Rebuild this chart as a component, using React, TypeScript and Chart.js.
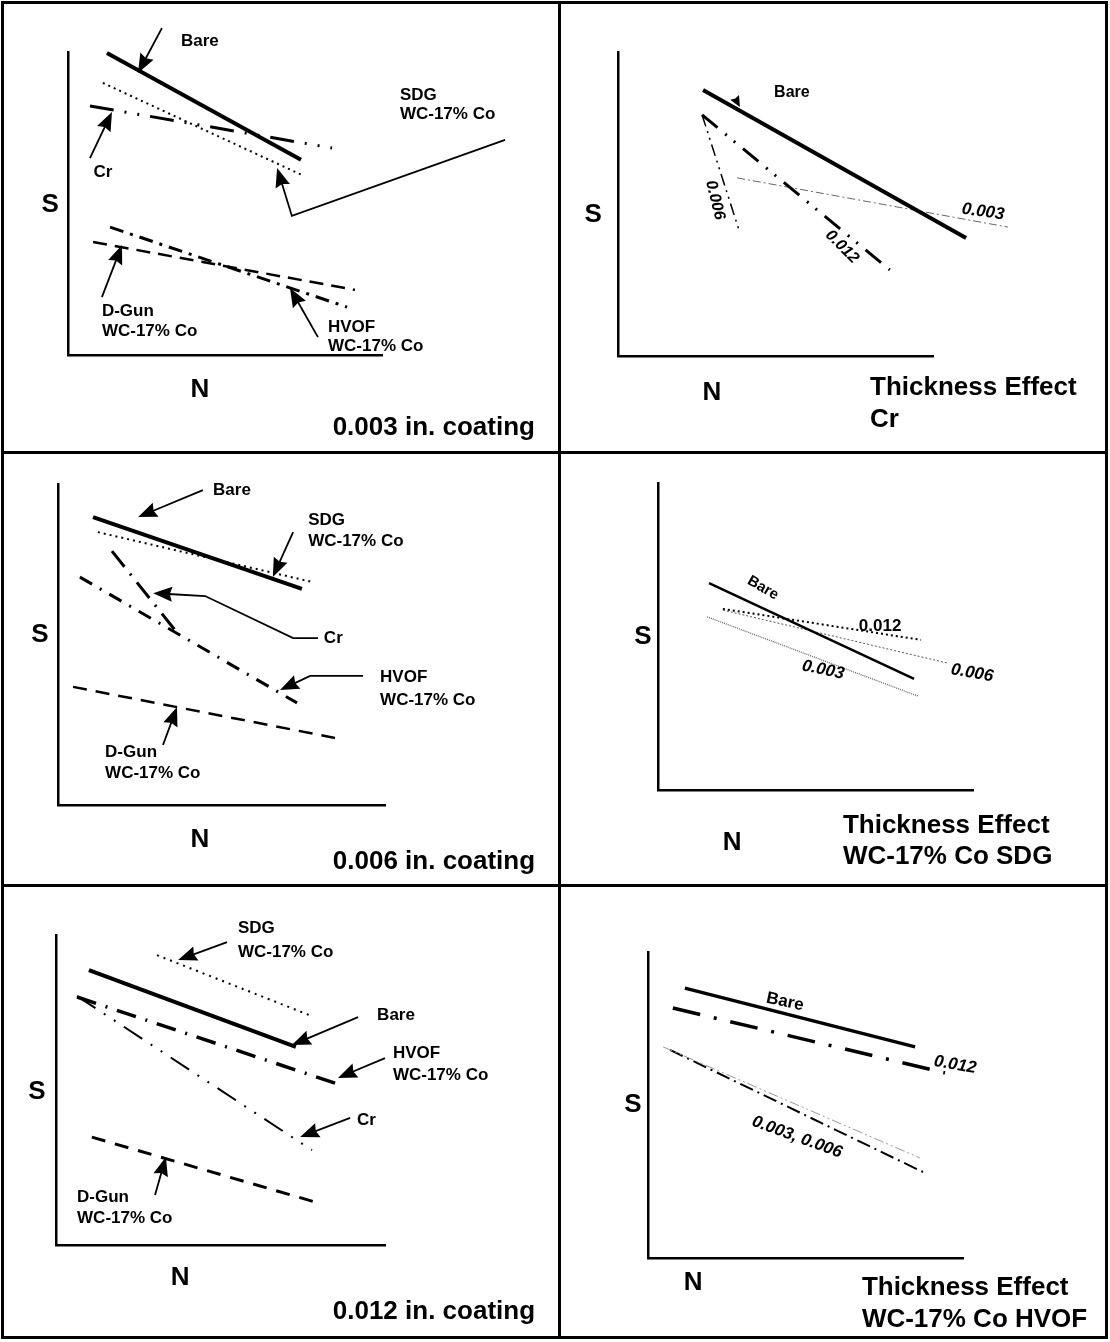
import React, { useEffect, useRef } from "react";
import { Chart, registerables } from "chart.js";

Chart.register(...registerables);

type Pt = [number, number];

// ---------- DATA (schematic units: N 0..10, S 0..10) ----------
// Panel 1: 0.003 in. coating
const p1Bare: Pt[] = [[1.24, 9.97], [7.42, 6.44]];
const p1SDG: Pt[] = [[1.11, 8.98], [7.45, 5.94]];
const p1Cr: Pt[] = [[0.70, 8.22], [8.41, 6.83]];
const p1DGun: Pt[] = [[0.80, 3.73], [9.14, 2.15]];
const p1HVOF: Pt[] = [[1.34, 4.22], [8.89, 1.58]];

// Panel 2: Thickness effect, Cr
const p2Bare: Pt[] = [[2.70, 8.75], [11.05, 3.88]];
const p2T012: Pt[] = [[2.67, 7.93], [8.63, 2.83]];
const p2T006: Pt[] = [[2.67, 7.93], [3.87, 4.05]];
const p2T003: Pt[] = [[3.78, 5.86], [12.38, 4.24]];

// Panel 3: 0.006 in. coating
const p3Bare: Pt[] = [[1.07, 8.97], [7.46, 6.73]];
const p3SDG: Pt[] = [[1.22, 8.50], [7.77, 6.95]];
const p3Cr: Pt[] = [[1.65, 7.91], [3.67, 5.33]];
const p3HVOF: Pt[] = [[0.67, 7.10], [7.31, 3.18]];
const p3DGun: Pt[] = [[0.46, 3.68], [8.47, 2.09]];

// Panel 4: Thickness effect, WC-17% Co SDG
const p4Bare: Pt[] = [[1.62, 6.74], [8.13, 3.62]];
const p4T012: Pt[] = [[2.06, 5.90], [8.35, 4.89]];
const p4T006: Pt[] = [[2.06, 5.86], [9.17, 4.14]];
const p4T003: Pt[] = [[1.56, 5.64], [8.25, 3.06]];

// Panel 5: 0.012 in. coating
const p5SDG: Pt[] = [[3.07, 9.35], [7.69, 7.42]];
const p5Bare: Pt[] = [[1.00, 8.87], [7.29, 6.39]];
const p5HVOF: Pt[] = [[0.64, 8.00], [8.57, 5.19]];
const p5Cr: Pt[] = [[0.64, 8.03], [7.78, 3.06]];
const p5DGun: Pt[] = [[1.09, 3.48], [8.09, 1.32]];

// Panel 6: Thickness effect, WC-17% Co HVOF
const p6Bare: Pt[] = [[1.17, 8.82], [8.48, 6.90]];
const p6T012: Pt[] = [[0.79, 8.17], [9.43, 6.05]];
const p6T003: Pt[] = [[0.48, 6.90], [8.63, 3.27]];
const p6T006: Pt[] = [[0.70, 6.80], [8.73, 2.81]];

const AXIS_MIN = 0;
const AXIS_MAX = 10;

// ---------- STYLES / LAYOUT ----------
const FONT = "'Liberation Sans', Arial, Helvetica, sans-serif";
const W = 1110;
const H = 1342;

type LineStyle = { w: number; dash: number[]; color?: string };
type Series = { pts: Pt[]; st: LineStyle };
type Txt = { t: string; x: number; y: number; align?: CanvasTextAlign; rot?: number; size?: number; italic?: boolean };
type Arr = { pts: Pt[]; shaft?: boolean; hl?: number; hw?: number; w?: number };
type Panel = { box: [number, number, number, number]; series: Series[]; texts: Txt[]; arrows: Arr[] };

const BIG = 26;
const SM = 17;

const panels: Panel[] = [
  {
    box: [68, 52, 382, 355],
    series: [
      { pts: p1Bare, st: { w: 4, dash: [] } },
      { pts: p1SDG, st: { w: 2, dash: [2, 4] } },
      { pts: p1Cr, st: { w: 3, dash: [24, 11, 2, 11, 2, 11] } },
      { pts: p1DGun, st: { w: 2.5, dash: [14, 8] } },
      { pts: p1HVOF, st: { w: 3, dash: [14, 7, 3, 7] } },
    ],
    texts: [
      { t: "S", x: -0.57, y: 4.95, size: BIG },
      { t: "N", x: 4.2, y: -1.16, size: BIG },
      { t: "0.003 in. coating", x: 14.87, y: -2.41, size: BIG, align: "right" },
      { t: "Bare", x: 4.2, y: 10.36 },
      { t: "SDG", x: 10.57, y: 8.58, align: "left" },
      { t: "WC-17% Co", x: 10.57, y: 7.95, align: "left" },
      { t: "Cr", x: 1.11, y: 6.04 },
      { t: "D-Gun", x: 1.08, y: 1.45, align: "left" },
      { t: "WC-17% Co", x: 1.08, y: 0.79, align: "left" },
      { t: "HVOF", x: 8.28, y: 0.92, align: "left" },
      { t: "WC-17% Co", x: 8.28, y: 0.3, align: "left" },
    ],
    arrows: [
      { pts: [[2.99, 10.79], [2.23, 9.31]] },
      { pts: [[0.70, 6.50], [1.40, 8.02]] },
      { pts: [[13.92, 7.10], [7.13, 4.59], [6.66, 6.17]] },
      { pts: [[1.08, 1.91], [1.72, 3.63]] },
      { pts: [[7.96, 0.59], [7.07, 2.21]] },
    ],
  },
  {
    box: [618, 52, 933, 356],
    series: [
      { pts: p2Bare, st: { w: 4, dash: [] } },
      { pts: p2T012, st: { w: 3, dash: [20, 10, 2, 9, 2, 10] } },
      { pts: p2T006, st: { w: 1.5, dash: [12, 5, 2, 5, 2, 5] } },
      { pts: p2T003, st: { w: 1, dash: [8, 3, 2, 3], color: "#666" } },
    ],
    texts: [
      { t: "S", x: -0.79, y: 4.64, size: BIG },
      { t: "N", x: 2.98, y: -1.22, size: BIG },
      { t: "Thickness Effect", x: 8.0, y: -1.05, size: BIG, align: "left" },
      { t: "Cr", x: 8.0, y: -2.11, size: BIG, align: "left" },
      { t: "Bare", x: 5.52, y: 8.65, size: 16 },
      { t: "0.003", x: 11.59, y: 4.74, rot: 8, italic: true, size: 17 },
      { t: "0.012", x: 7.11, y: 3.59, rot: 45, italic: true, size: 16 },
      { t: "0.006", x: 3.08, y: 5.13, rot: 76, italic: true, size: 16 },
    ],
    arrows: [{ pts: [[3.68, 8.55], [3.87, 8.19]], shaft: false, hl: 11, hw: 5 }],
  },
  {
    box: [58, 484, 385, 805],
    series: [
      { pts: p3Bare, st: { w: 4, dash: [] } },
      { pts: p3SDG, st: { w: 2, dash: [2, 4] } },
      { pts: p3Cr, st: { w: 3, dash: [20, 9, 2, 9] } },
      { pts: p3HVOF, st: { w: 3, dash: [14, 9, 2, 9] } },
      { pts: p3DGun, st: { w: 2.5, dash: [14, 9] } },
    ],
    texts: [
      { t: "S", x: -0.55, y: 5.3, size: BIG },
      { t: "N", x: 4.34, y: -1.09, size: BIG },
      { t: "0.006 in. coating", x: 14.59, y: -1.78, size: BIG, align: "right" },
      { t: "Bare", x: 5.32, y: 9.81 },
      { t: "SDG", x: 7.65, y: 8.88, align: "left" },
      { t: "WC-17% Co", x: 7.65, y: 8.22, align: "left" },
      { t: "Cr", x: 8.13, y: 5.2, align: "left" },
      { t: "HVOF", x: 9.85, y: 3.99, align: "left" },
      { t: "WC-17% Co", x: 9.85, y: 3.27, align: "left" },
      { t: "D-Gun", x: 1.44, y: 1.65, align: "left" },
      { t: "WC-17% Co", x: 1.44, y: 1.0, align: "left" },
    ],
    arrows: [
      { pts: [[4.43, 9.81], [2.45, 8.97]] },
      { pts: [[7.19, 8.50], [6.57, 7.10]] },
      { pts: [[7.95, 5.20], [7.19, 5.20], [4.50, 6.51], [2.91, 6.60]] },
      { pts: [[9.33, 4.02], [7.71, 4.02], [6.79, 3.58]] },
      { pts: [[3.21, 1.87], [3.64, 3.05]] },
    ],
  },
  {
    box: [658, 483, 973, 790],
    series: [
      { pts: p4Bare, st: { w: 2.5, dash: [] } },
      { pts: p4T012, st: { w: 2, dash: [2, 3] } },
      { pts: p4T006, st: { w: 1, dash: [2, 2], color: "#555" } },
      { pts: p4T003, st: { w: 1.3, dash: [1, 1], color: "#666" } },
    ],
    texts: [
      { t: "S", x: -0.48, y: 4.98, size: BIG },
      { t: "N", x: 2.35, y: -1.73, size: BIG },
      { t: "Thickness Effect", x: 5.87, y: -1.17, size: BIG, align: "left" },
      { t: "WC-17% Co SDG", x: 5.87, y: -2.18, size: BIG, align: "left" },
      { t: "Bare", x: 3.33, y: 6.58, rot: 30, size: 15 },
      { t: "0.012", x: 7.05, y: 5.34, size: 17 },
      { t: "0.006", x: 9.97, y: 3.81, rot: 10, italic: true, size: 17 },
      { t: "0.003", x: 5.24, y: 3.91, rot: 12, italic: true, size: 17 },
    ],
    arrows: [],
  },
  {
    box: [56, 935, 385, 1245],
    series: [
      { pts: p5SDG, st: { w: 2, dash: [2, 5] } },
      { pts: p5Bare, st: { w: 4, dash: [] } },
      { pts: p5HVOF, st: { w: 3.5, dash: [20, 10, 2, 10] } },
      { pts: p5Cr, st: { w: 2, dash: [22, 10, 2, 10, 2, 10] } },
      { pts: p5DGun, st: { w: 3, dash: [14, 10] } },
    ],
    texts: [
      { t: "S", x: -0.58, y: 4.94, size: BIG },
      { t: "N", x: 3.77, y: -1.06, size: BIG },
      { t: "0.012 in. coating", x: 14.56, y: -2.16, size: BIG, align: "right" },
      { t: "SDG", x: 5.53, y: 10.23, align: "left" },
      { t: "WC-17% Co", x: 5.53, y: 9.45, align: "left" },
      { t: "Bare", x: 9.76, y: 7.42, align: "left" },
      { t: "HVOF", x: 10.24, y: 6.19, align: "left" },
      { t: "WC-17% Co", x: 10.24, y: 5.48, align: "left" },
      { t: "Cr", x: 9.15, y: 4.03, align: "left" },
      { t: "D-Gun", x: 0.64, y: 1.55, align: "left" },
      { t: "WC-17% Co", x: 0.64, y: 0.87, align: "left" },
    ],
    arrows: [
      { pts: [[5.20, 9.77], [3.71, 9.19]] },
      { pts: [[9.18, 7.35], [7.17, 6.45]] },
      { pts: [[10.0, 6.03], [8.57, 5.39]] },
      { pts: [[8.94, 4.10], [7.42, 3.48]] },
      { pts: [[3.01, 1.61], [3.34, 2.84]] },
    ],
  },
  {
    box: [648, 952, 963, 1258],
    series: [
      { pts: p6Bare, st: { w: 3.5, dash: [] } },
      { pts: p6T012, st: { w: 3.5, dash: [28, 14, 3, 14] } },
      { pts: p6T003, st: { w: 1, dash: [10, 3, 2, 3, 2, 3], color: "#999" } },
      { pts: p6T006, st: { w: 2, dash: [14, 5, 2, 5] } },
    ],
    texts: [
      { t: "S", x: -0.48, y: 5.0, size: BIG },
      { t: "N", x: 1.43, y: -0.82, size: BIG },
      { t: "Thickness Effect", x: 6.79, y: -0.98, size: BIG, align: "left" },
      { t: "WC-17% Co HVOF", x: 6.79, y: -2.03, size: BIG, align: "left" },
      { t: "Bare", x: 4.35, y: 8.37, rot: 12, size: 17 },
      { t: "0.012", x: 9.75, y: 6.31, rot: 10, italic: true, size: 17 },
      { t: "0.003, 0.006", x: 4.73, y: 3.95, rot: 20, italic: true, size: 17 },
    ],
    arrows: [],
  },
];

function makeAnnotPlugin(panel: Panel) {
  return {
    id: "annot",
    afterDatasetsDraw(chart: any) {
      const ctx: CanvasRenderingContext2D = chart.ctx;
      const sx = chart.scales.x;
      const sy = chart.scales.y;
      const px = (p: Pt): Pt => [sx.getPixelForValue(p[0]), sy.getPixelForValue(p[1])];
      ctx.save();
      ctx.strokeStyle = "#000";
      ctx.fillStyle = "#000";
      for (const a of panel.arrows) {
        const pts = a.pts.map(px);
        const hl = a.hl ?? 19;
        const hw = a.hw ?? 7.5;
        const [x1, y1] = pts[pts.length - 2];
        const [x2, y2] = pts[pts.length - 1];
        const ang = Math.atan2(y2 - y1, x2 - x1);
        const cos = Math.cos(ang);
        const sin = Math.sin(ang);
        if (a.shaft !== false) {
          ctx.lineWidth = a.w ?? 1.8;
          ctx.lineJoin = "miter";
          ctx.beginPath();
          ctx.moveTo(pts[0][0], pts[0][1]);
          for (let i = 1; i < pts.length - 1; i++) ctx.lineTo(pts[i][0], pts[i][1]);
          ctx.lineTo(x2 - cos * hl * 0.8, y2 - sin * hl * 0.8);
          ctx.stroke();
        }
        const bx = x2 - cos * hl;
        const by = y2 - sin * hl;
        const nx = x2 - cos * hl * 0.88;
        const ny = y2 - sin * hl * 0.88;
        ctx.beginPath();
        ctx.moveTo(x2, y2);
        ctx.lineTo(bx - sin * hw, by + cos * hw);
        ctx.lineTo(nx, ny);
        ctx.lineTo(bx + sin * hw, by - cos * hw);
        ctx.closePath();
        ctx.fill();
      }
      for (const t of panel.texts) {
        const [x, y] = px([t.x, t.y]);
        ctx.save();
        ctx.translate(x, y);
        if (t.rot) ctx.rotate((t.rot * Math.PI) / 180);
        ctx.font = `${t.italic ? "italic " : ""}bold ${t.size ?? SM}px ${FONT}`;
        ctx.textAlign = t.align ?? "center";
        ctx.textBaseline = "middle";
        ctx.fillText(t.t, 0, 0);
        ctx.restore();
      }
      ctx.restore();
    },
  };
}

function axisOpts() {
  return {
    type: "linear" as const,
    min: AXIS_MIN,
    max: AXIS_MAX,
    ticks: { display: false },
    grid: { display: false, drawTicks: false },
    border: { display: true, color: "#000", width: 2.5 },
  };
}

function PanelChart({ panel }: { panel: Panel }) {
  const ref = useRef<HTMLCanvasElement>(null);
  useEffect(() => {
    const [l, t, r, b] = panel.box;
    const chart = new Chart(ref.current as HTMLCanvasElement, {
      type: "scatter",
      data: {
        datasets: panel.series.map((s) => ({
          data: s.pts.map(([x, y]) => ({ x, y })),
          showLine: true,
          borderColor: s.st.color ?? "#000",
          borderWidth: s.st.w,
          borderDash: s.st.dash,
          pointRadius: 0,
          fill: false,
          tension: 0,
          clip: false as any,
        })),
      },
      options: {
        animation: false,
        responsive: false,
        devicePixelRatio: 1,
        events: [],
        layout: { padding: { left: l, top: t, right: W - r, bottom: H - b } },
        plugins: { legend: { display: false }, tooltip: { enabled: false } },
        scales: { x: axisOpts(), y: axisOpts() },
      },
      plugins: [makeAnnotPlugin(panel)],
    });
    return () => chart.destroy();
  }, [panel]);
  return (
    <canvas
      ref={ref}
      width={W}
      height={H}
      style={{ position: "absolute", left: 0, top: 0, width: W, height: H, pointerEvents: "none" }}
    />
  );
}

export default function App() {
  const bar = (left: number, top: number, width: number, height: number) => (
    <div style={{ position: "absolute", left, top, width, height, background: "#000" }} />
  );
  return (
    <div style={{ position: "absolute", left: 0, top: 0, width: W, height: H, background: "#fff", overflow: "hidden" }}>
      {bar(1, 1, 1107, 3)}
      {bar(1, 1336, 1107, 3)}
      {bar(1, 1, 3, 1338)}
      {bar(1105, 1, 3, 1338)}
      {bar(558, 1, 3, 1338)}
      {bar(1, 451, 1107, 3)}
      {bar(1, 884, 1107, 3)}
      {panels.map((p, i) => (
        <PanelChart key={i} panel={p} />
      ))}
    </div>
  );
}
